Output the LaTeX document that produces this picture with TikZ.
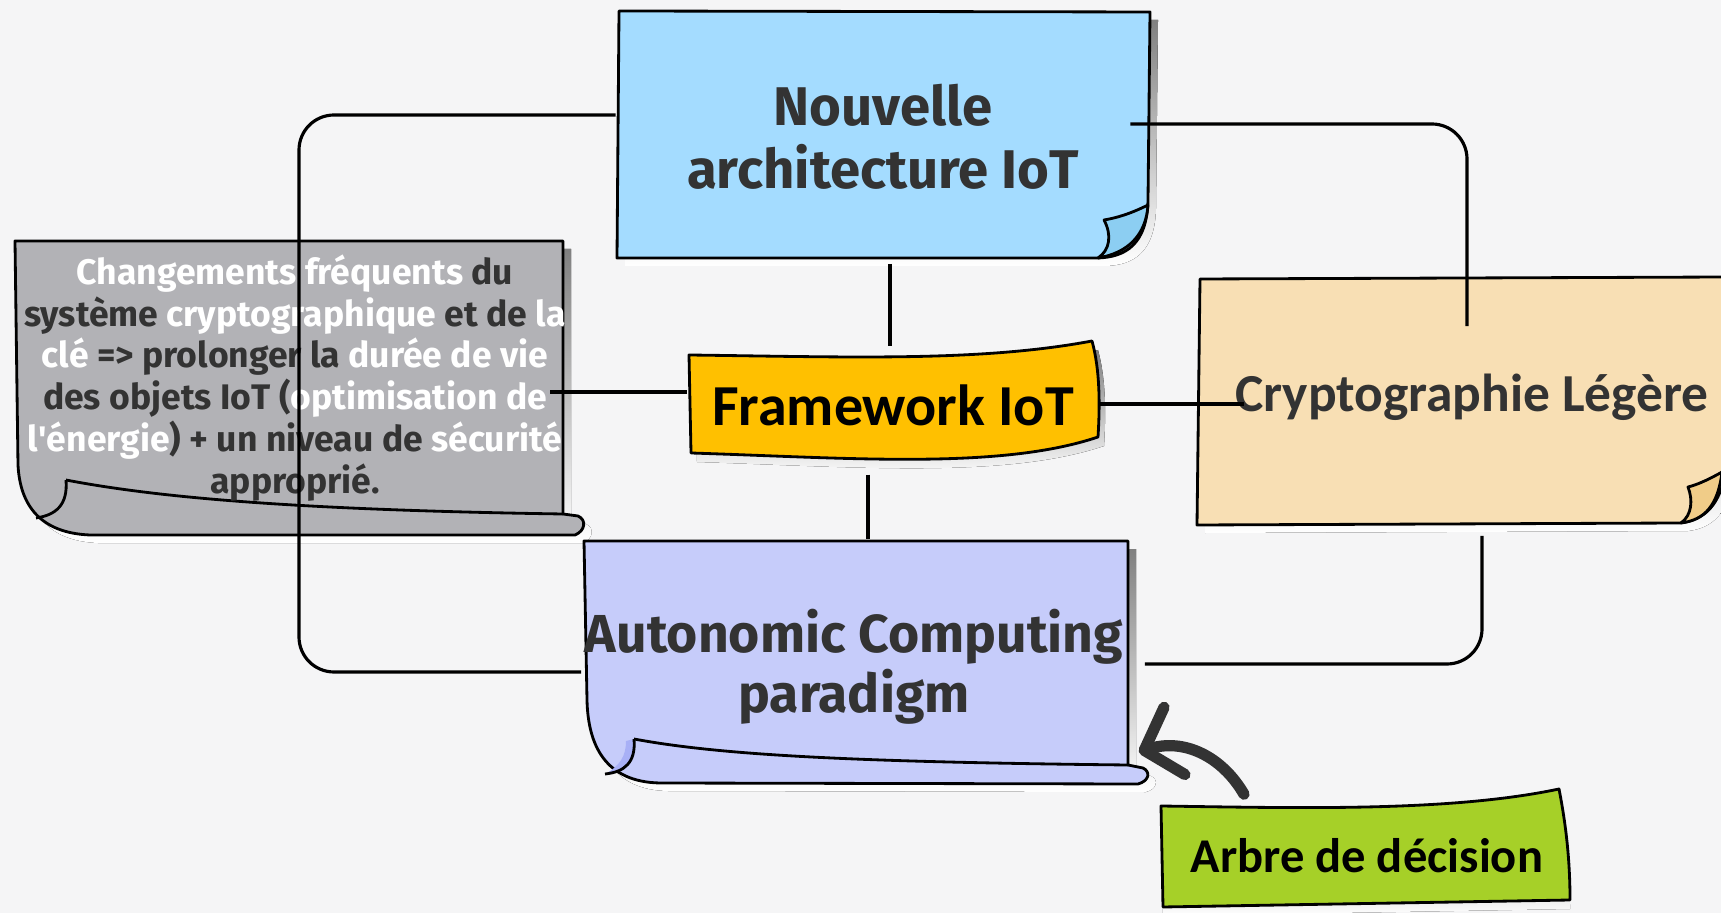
\documentclass[tikz,border=0pt]{standalone}
\usepackage{fontspec}
\setmainfont{Fira Sans}
\newfontfamily\carlito{Carlito}
\usepackage{xcolor}
\usepackage{tikz}
\usetikzlibrary{arrows.meta, calc}
\definecolor{paper}{RGB}{245,245,246}
\definecolor{shade}{RGB}{223,225,229}
\definecolor{skyblue}{RGB}{164,220,255}
\definecolor{skyfold}{RGB}{140,206,242}
\definecolor{amber}{RGB}{255,192,0}
\definecolor{stone}{RGB}{178,178,182}
\definecolor{wheat}{RGB}{248,223,180}
\definecolor{wheatfold}{RGB}{240,204,136}
\definecolor{lavender}{RGB}{198,204,250}
\definecolor{lavfold}{RGB}{168,176,246}
\definecolor{limegreen}{RGB}{166,208,40}
\definecolor{inkgray}{RGB}{51,51,51}
\newcommand{\lite}[1]{\textcolor{white}{#1}}
\pgfdeclarelayer{bg}
\pgfsetlayers{bg,main}

\begin{document}
\begin{tikzpicture}[
          x=0.01cm, y=-0.01cm,
          note/.style={
            inner sep=0pt, align=center, text=inkgray
          },
          outline/.style={
            draw=black, line width=0.8pt, line join=round
          },
          conn/.style={
            draw=black, line width=0.9pt, rounded corners=0.35cm
          },
          pointer/.style={
            -{Straight Barb[length=9pt, width=20pt, round]},
            line width=3.2pt, line cap=round, draw=inkgray
          }
        ]
          \useasboundingbox (0,0) rectangle (1721,913);

          \node[note, minimum width=5.33cm, minimum height=2.5cm,
                font=\fontsize{15.5}{18}\selectfont\bfseries] (arch) at (883,137)
                {Nouvelle\\architecture IoT};
          \node[note, minimum width=4.1cm, minimum height=1.1cm,
                font=\carlito\fontsize{16.5}{19}\selectfont\bfseries, text=black] (fw) at (893,405)
                {Framework IoT};
          \node[note, minimum width=5.48cm, minimum height=2.95cm,
                font=\fontsize{10.1}{11.9}\selectfont\bfseries] (chg) at (295,378)
                {\lite{Changements fréquents} du\\
                 système \lite{cryptographique} et de \lite{la}\\
                 \lite{clé} => prolonger la \lite{durée de vie}\\
                 des objets IoT (\lite{optimisation de}\\
                 \lite{l\textquotesingle énergie}) + un niveau de \lite{sécurité}\\
                 approprié.};
          \node[note, minimum width=5.21cm, minimum height=2.48cm,
                font=\carlito\fontsize{15.2}{18}\selectfont\bfseries] (crypto) at (1472,397)
                {Cryptographie Légère};
          \node[note, minimum width=5.44cm, minimum height=2.4cm,
                font=\fontsize{15.2}{17}\selectfont\bfseries] (auto) at (854,667)
                {Autonomic Computing\\paradigm};
          \node[note, minimum width=4cm, minimum height=1.1cm,
                font=\carlito\fontsize{13.8}{18}\selectfont\bfseries, text=black] (tree) at (1367,856)
                {Arbre de décision};

          \begin{pgfonlayer}{bg}
            \fill[paper] (0,0) rectangle (1721,913);
            % shadows
            \fill[shade, xshift=0.08cm, yshift=-0.08cm] (619,11) -- (1150,12) -- (1148,200)
              .. controls (1147,245) and (1125,257) .. (1098,258) -- (617,258) -- cycle;
            \fill[shade, xshift=0.06cm, yshift=-0.09cm] (689,355) .. controls (850,357) and (980,362) .. (1092,341)
              .. controls (1100,370) and (1100,405) .. (1098,437)
              .. controls (1000,470) and (850,458) .. (691,453) -- cycle;
            \fill[shade, xshift=0.08cm, yshift=-0.08cm] (15,241) -- (563,241) -- (563,514) -- (578,516)
              .. controls (587,520) and (585,531) .. (575,535) -- (90,535)
              .. controls (40,533) and (20,505) .. (18,465) -- cycle;
            \fill[shade, xshift=0.08cm, yshift=-0.08cm] (1200,279) -- (1726,277) -- (1726,470)
              .. controls (1720,505) and (1705,520) .. (1680,523) -- (1197,525) -- cycle;
            \fill[shade, xshift=0.08cm, yshift=-0.08cm] (584,541) -- (1128,541) -- (1128,765) -- (1143,768)
              .. controls (1151,772) and (1149,781) .. (1138,784) -- (660,783)
              .. controls (605,782) and (588,745) .. (587,700) -- cycle;
            \fill[shade, yshift=-0.09cm] (1161,806) .. controls (1300,808) and (1450,812) .. (1559,789)
              .. controls (1566,825) and (1570,860) .. (1570,900) -- (1163,907) -- cycle;

            % notes
            \path[outline, fill=skyblue] (619,11) -- (1150,12) -- (1148,200)
              .. controls (1147,245) and (1125,257) .. (1098,258) -- (617,258) -- cycle;
            \path[outline, fill=skyfold] (1148,205) .. controls (1130,214) and (1116,218) .. (1104,220)
              .. controls (1112,235) and (1110,250) .. (1098,258)
              .. controls (1128,253) and (1146,235) .. (1148,205) -- cycle;

            \path[outline, fill=amber] (689,355) .. controls (850,357) and (980,362) .. (1092,341)
              .. controls (1100,370) and (1100,405) .. (1098,437)
              .. controls (1000,470) and (850,458) .. (691,453) -- cycle;

            \path[outline, fill=stone] (15,241) -- (563,241) -- (563,514) -- (578,516)
              .. controls (587,520) and (585,531) .. (575,535) -- (90,535)
              .. controls (40,533) and (20,505) .. (18,465) -- cycle;
            \draw[outline] (66,480) .. controls (160,498) and (300,510) .. (563,514);
            \draw[outline] (66,480) .. controls (68,505) and (56,515) .. (36,518);

            \path[outline, fill=wheat] (1200,279) -- (1726,277) -- (1726,470)
              .. controls (1720,505) and (1705,520) .. (1680,523) -- (1197,525) -- cycle;
            \path[outline, fill=wheatfold] (1722,472) .. controls (1706,481) and (1696,485) .. (1688,487)
              .. controls (1693,500) and (1692,515) .. (1681,523)
              .. controls (1705,520) and (1718,505) .. (1722,472) -- cycle;

            \path[outline, fill=lavender] (584,541) -- (1128,541) -- (1128,765) -- (1143,768)
              .. controls (1151,772) and (1149,781) .. (1138,784) -- (660,783)
              .. controls (605,782) and (588,745) .. (587,700) -- cycle;
            \path[fill=lavfold] (634,739) .. controls (636,762) and (625,772) .. (605,774)
              .. controls (620,766) and (626,756) .. (626,741) -- cycle;
            \draw[outline] (634,739) .. controls (720,755) and (850,762) .. (1128,765);
            \draw[outline] (634,739) .. controls (636,762) and (625,772) .. (605,774);

            \path[outline, fill=limegreen] (1161,806) .. controls (1300,808) and (1450,812) .. (1559,789)
              .. controls (1566,825) and (1570,860) .. (1570,900) -- (1163,907) -- cycle;
          \end{pgfonlayer}

          \draw[conn] ($(arch.south)+(7,1)$) -- ($(fw.north)+(-3,-3)$);
          \draw[conn] ($(fw.south)+(-25,14)$) -- ($(auto.north)+(14,-7)$);
          \draw[conn] ($(fw.west)+(0,-13)$) -- ($(chg.east)+(-20,14)$);
          \draw[conn] ($(fw.east)+(0,-1)$) -- ($(crypto.west)+(33,7)$);
          \draw[conn] ($(arch.west)+(0,-22)$) -| ($(chg.center)+(4,0)$) |- ($(auto.west)+(0,5)$);
          \draw[conn] ($(arch.east)+(-20,-13)$) -| ($(crypto.north)+(-5,54)$);
          \draw[conn] ($(crypto.south)+(10,14)$) |- ($(auto.east)+(18,-3)$);
          \draw[pointer] ($(tree.north)+(-123,-6)$) .. controls +(-22,-38) and +(45,-14) .. ($(auto.east)+(12,85)$);
        \end{tikzpicture}
\end{document}
